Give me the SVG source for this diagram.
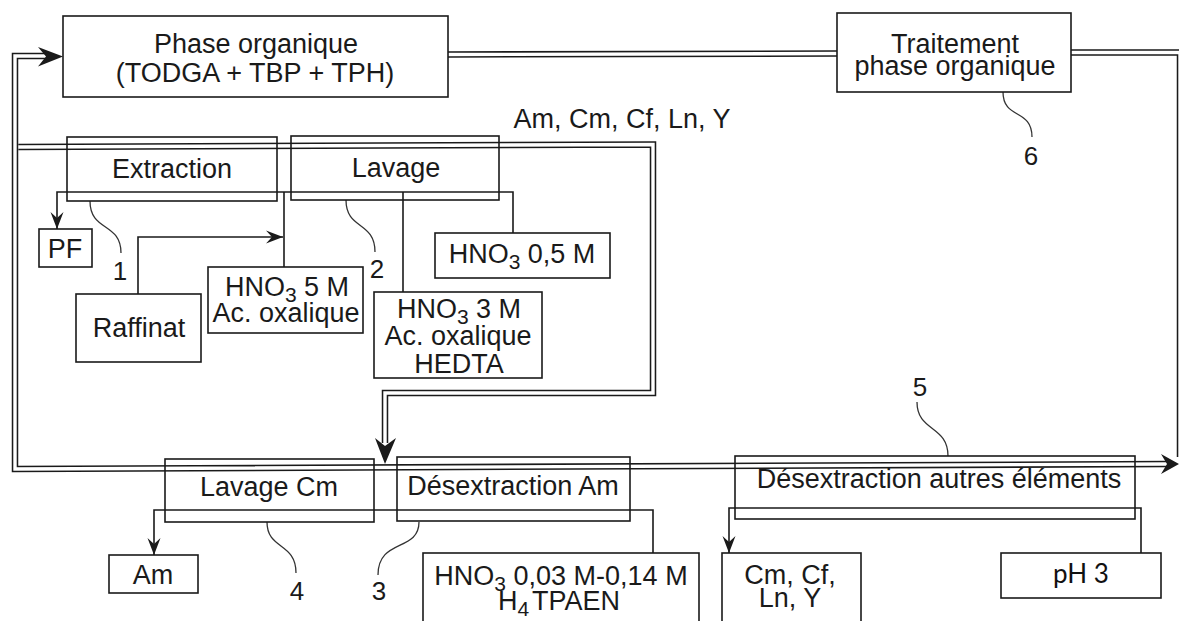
<svg xmlns="http://www.w3.org/2000/svg" width="1179" height="621" viewBox="0 0 1179 621">
<style>
.box{fill:none;stroke:#1a1a1a;stroke-width:1.6}
.t{font-family:"Liberation Sans",Arial,sans-serif;font-size:27px;fill:#1a1a1a;text-anchor:middle}
.n{font-family:"Liberation Sans",Arial,sans-serif;font-size:26px;fill:#1a1a1a;text-anchor:middle}
.ph{font-family:Lato,"Open Sans",sans-serif;font-size:26px;fill:#111;text-anchor:middle}
.sub{font-size:21px}
.dblo{fill:none;stroke:#1a1a1a;stroke-width:6.5;stroke-linejoin:miter}
.dbli{fill:none;stroke:#fff;stroke-width:3.4;stroke-linejoin:miter}
.aq{fill:none;stroke:#1a1a1a;stroke-width:1.6}
.lead{fill:none;stroke:#333;stroke-width:1.3}
.bigh{fill:#1a1a1a}
</style>
<defs>
<marker id="ah" markerUnits="userSpaceOnUse" viewBox="-18 -8 19 16" markerWidth="19" markerHeight="16" refX="0" refY="0" orient="auto">
<path d="M0,0 L-17,-6.5 L-11,0 L-17,6.5 Z" fill="#1a1a1a"/>
</marker>
</defs>
<rect width="1179" height="621" fill="#fff"/>
<g id="connectors">
<path class="dblo" d="M46,56 L15,56 L15,469 L1168,464"/>
<path class="dbli" d="M46,56 L15,56 L15,469 L1168,464"/>
<polygon class="bigh" points="63,56.5 38,47 46,56.5 38,66.5"/>
<polygon class="bigh" points="1179,464 1161,454 1167,464 1161,474"/>
<path class="dblo" d="M448,54.5 L837,53.5"/>
<path class="dbli" d="M448,54.5 L837,53.5"/>
<path class="dblo" d="M1071,52.5 L1180,52.5 L1180,457"/>
<path class="dbli" d="M1071,52.5 L1180,52.5 L1180,457"/>
<path class="dblo" d="M18.3,147 L653,144.5 L653,393 L385,393 L385,443"/>
<path class="dbli" d="M18.3,147 L653,144.5 L653,393 L385,393 L385,443"/>
<polygon class="bigh" points="385,464 375,438 385,446 396,438"/>
<path class="aq" d="M513,233 L513,192 L57,192 L57,229" marker-end="url(#ah)"/>
<path class="aq" d="M284,192 L284,267"/>
<path class="aq" d="M403,192 L403,292"/>
<path class="aq" d="M138,294 L138,237 L283,237" marker-end="url(#ah)"/>
<path class="aq" d="M653,553 L653,510 L154,510 L154,555" marker-end="url(#ah)"/>
<path class="aq" d="M1141,553 L1141,508 L729,508 L729,553" marker-end="url(#ah)"/>
</g>
<g id="labels">
<text class="t" x="622" y="128">Am, Cm, Cf, Ln, Y</text>
<path class="lead" d="M90,201 C90,232 121,222 121,253"/>
<text class="n" x="120" y="280">1</text>
<path class="lead" d="M346,200 C346,230 375,221 375,252"/>
<text class="n" x="377" y="278">2</text>
<path class="lead" d="M419,522 C419,552 378,538 378,575"/>
<text class="n" x="379" y="600">3</text>
<path class="lead" d="M267,522 C267,550 296,542 296,573"/>
<text class="n" x="297" y="600">4</text>
<path class="lead" d="M948,456 C948,425 917,432 917,402"/>
<text class="n" x="920" y="396">5</text>
<path class="lead" d="M1003,92 C1003,120 1032,108 1032,137"/>
<text class="n" x="1031" y="165">6</text>
</g>
<g id="phase-organique">
<rect class="box" x="63" y="16" width="385" height="81"/>
<text class="t" x="256" y="53">Phase organique</text>
<text class="t" x="255" y="82">(TODGA + TBP + TPH)</text>
</g>
<g id="traitement">
<rect class="box" x="837" y="13" width="234" height="79"/>
<text class="t" x="955" y="53">Traitement</text>
<text class="t" x="955" y="75">phase organique</text>
</g>
<g id="extraction">
<rect class="box" x="67" y="137" width="210" height="64"/>
<text class="t" x="172" y="178">Extraction</text>
</g>
<g id="lavage">
<rect class="box" x="291" y="136" width="208" height="64"/>
<text class="t" x="396" y="177">Lavage</text>
</g>
<g id="pf">
<rect class="box" x="39" y="229" width="53" height="38"/>
<text class="t" x="65" y="258">PF</text>
</g>
<g id="raffinat">
<rect class="box" x="76" y="294" width="125" height="68"/>
<text class="t" x="139" y="337">Raffinat</text>
</g>
<g id="hno3-5m">
<rect class="box" x="208" y="267" width="155" height="66"/>
<text class="t" x="287" y="296">HNO<tspan class="sub" dy="6">3</tspan><tspan dy="-6"> 5 M</tspan></text>
<text class="t" x="286" y="322">Ac. oxalique</text>
</g>
<g id="hno3-05m">
<rect class="box" x="435" y="233" width="175" height="45"/>
<text class="t" x="522" y="263">HNO<tspan class="sub" dy="6">3</tspan><tspan dy="-6"> 0,5 M</tspan></text>
</g>
<g id="hno3-3m">
<rect class="box" x="374" y="292" width="168" height="86"/>
<text class="t" x="459" y="318">HNO<tspan class="sub" dy="6">3</tspan><tspan dy="-6"> 3 M</tspan></text>
<text class="t" x="458" y="345">Ac. oxalique</text>
<text class="t" x="459" y="373">HEDTA</text>
</g>
<g id="lavage-cm">
<rect class="box" x="165" y="459" width="209" height="63"/>
<text class="t" x="269" y="496">Lavage Cm</text>
</g>
<g id="desextraction-am">
<rect class="box" x="397" y="457" width="233" height="64"/>
<text class="t" x="513" y="495">Désextraction Am</text>
</g>
<g id="desextraction-autres">
<rect class="box" x="735" y="456" width="400" height="63"/>
<text class="t" x="939" y="488">Désextraction autres éléments</text>
</g>
<g id="am">
<rect class="box" x="109" y="555" width="89" height="38"/>
<text class="t" x="153" y="584">Am</text>
</g>
<g id="hno3-tpaen">
<rect class="box" x="423" y="553" width="276" height="75"/>
<text class="t" x="561" y="585">HNO<tspan class="sub" dy="6">3</tspan><tspan dy="-6"> 0,03 M-0,14 M</tspan></text>
<text class="t" x="559" y="610">H<tspan class="sub" dy="6">4</tspan><tspan dy="-6" dx="3">TPAEN</tspan></text>
</g>
<g id="cm-cf">
<rect class="box" x="722" y="553" width="139" height="75"/>
<text class="t" x="790" y="584">Cm, Cf,</text>
<text class="t" x="790" y="607">Ln, Y</text>
</g>
<g id="ph3">
<rect class="box" x="1001" y="553" width="160" height="45"/>
<text class="ph" x="1081" y="583">pH 3</text>
</g>
</svg>
